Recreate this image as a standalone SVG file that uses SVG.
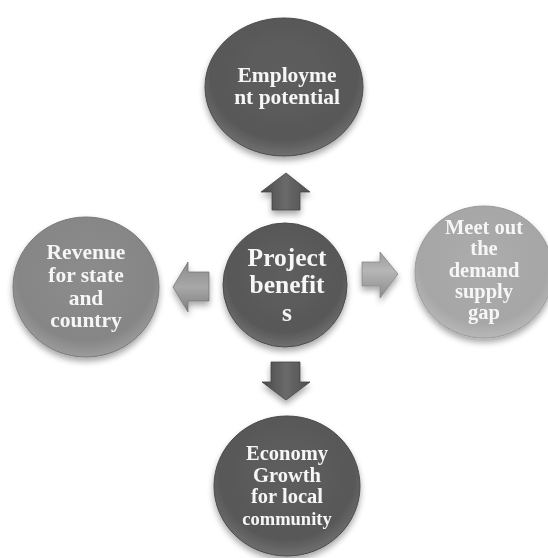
<svg xmlns="http://www.w3.org/2000/svg" width="548" height="558" viewBox="0 0 548 558">
  <defs>
    <radialGradient id="gDark" cx="50%" cy="42%" r="58%">
      <stop offset="0" stop-color="#5e5e5e"/>
      <stop offset="0.8" stop-color="#585858"/>
      <stop offset="1" stop-color="#707070"/>
    </radialGradient>
    <radialGradient id="gMid" cx="50%" cy="42%" r="58%">
      <stop offset="0" stop-color="#8c8c8c"/>
      <stop offset="0.8" stop-color="#868686"/>
      <stop offset="1" stop-color="#9c9c9c"/>
    </radialGradient>
    <radialGradient id="gLight" cx="50%" cy="42%" r="58%">
      <stop offset="0" stop-color="#acacac"/>
      <stop offset="0.8" stop-color="#a6a6a6"/>
      <stop offset="1" stop-color="#b8b8b8"/>
    </radialGradient>
    <linearGradient id="aDark" x1="0" y1="0" x2="1" y2="0">
      <stop offset="0" stop-color="#4a4a4a"/>
      <stop offset="0.5" stop-color="#6a6a6a"/>
      <stop offset="1" stop-color="#4e4e4e"/>
    </linearGradient>
    <linearGradient id="aMid" x1="0" y1="0" x2="0" y2="1">
      <stop offset="0" stop-color="#8a8a8a"/>
      <stop offset="0.5" stop-color="#a8a8a8"/>
      <stop offset="1" stop-color="#7e7e7e"/>
    </linearGradient>
    <linearGradient id="aLight" x1="0" y1="0" x2="0" y2="1">
      <stop offset="0" stop-color="#9a9a9a"/>
      <stop offset="0.4" stop-color="#b6b6b6"/>
      <stop offset="1" stop-color="#8c8c8c"/>
    </linearGradient>
    <filter id="shadow" x="-20%" y="-20%" width="140%" height="150%">
      <feGaussianBlur in="SourceAlpha" stdDeviation="3"/>
      <feOffset dx="0" dy="4" result="b"/>
      <feComponentTransfer><feFuncA type="linear" slope="0.35"/></feComponentTransfer>
      <feMerge><feMergeNode/><feMergeNode in="SourceGraphic"/></feMerge>
    </filter>
  </defs>
  <style>
    .dark { fill: url(#gDark); stroke: #4a4a4a; stroke-width: 1; }
    .mid { fill: url(#gMid); stroke: #7a7a7a; stroke-width: 1; }
    .light { fill: url(#gLight); stroke: #9a9a9a; stroke-width: 1; }
    .node { filter: url(#shadow); }
    .t { font-family: "Liberation Serif", "Times New Roman", serif; font-weight: bold; fill: #f6f6f6; text-anchor: middle; font-size: 21.5px; }
    .s { font-size: 20.5px; }
    .big { font-size: 25.5px; }
    .arrow { stroke-width: 0.8; filter: url(#shadow); }
  </style>
  <rect width="548" height="558" fill="#ffffff"/>

  <g id="connectors">
    <polygon class="arrow" fill="url(#aDark)" stroke="#444" points="286,173 310,192 300,192 300,210 272,210 272,192 261,192"/>
    <polygon class="arrow" fill="url(#aMid)" stroke="#777" points="173,287 188,262 188,272 209,272 209,301 188,301 188,312"/>
    <polygon class="arrow" fill="url(#aLight)" stroke="#888" points="398,274 380,252 380,262 362,262 362,286 380,286 380,298"/>
    <polygon class="arrow" fill="url(#aDark)" stroke="#444" points="271,362 300,362 300,382 310,382 286,400 262,382 271,382"/>
  </g>

  <g id="node-employment" class="node">
    <ellipse class="dark" cx="284" cy="87" rx="79" ry="69"/>
    <text class="t" x="287" y="82">Employme</text>
    <text class="t" x="287" y="104">nt potential</text>
  </g>

  <g id="node-revenue" class="node">
    <ellipse class="mid" cx="86" cy="287" rx="73" ry="70"/>
    <text class="t" x="86" y="259">Revenue</text>
    <text class="t" x="86" y="282">for state</text>
    <text class="t" x="86" y="305">and</text>
    <text class="t" x="86" y="327">country</text>
  </g>

  <g id="node-center" class="node">
    <ellipse class="dark" cx="285" cy="285" rx="62" ry="62"/>
    <text class="t big" x="287" y="266">Project</text>
    <text class="t big" x="287" y="293">benefit</text>
    <text class="t big" x="287" y="321">s</text>
  </g>

  <g id="node-demand" class="node">
    <ellipse class="light" cx="484" cy="272" rx="69" ry="66"/>
    <text class="t s" x="484" y="234">Meet out</text>
    <text class="t s" x="484" y="255">the</text>
    <text class="t s" x="484" y="277">demand</text>
    <text class="t s" x="484" y="298">supply</text>
    <text class="t s" x="484" y="319">gap</text>
  </g>

  <g id="node-economy" class="node">
    <ellipse class="dark" cx="287" cy="486" rx="73" ry="70"/>
    <text class="t s" x="287" y="460">Economy</text>
    <text class="t s" x="287" y="482">Growth</text>
    <text class="t s" x="287" y="503">for local</text>
    <text class="t" x="287" y="525" style="font-size:18.5px">community</text>
  </g>
</svg>
